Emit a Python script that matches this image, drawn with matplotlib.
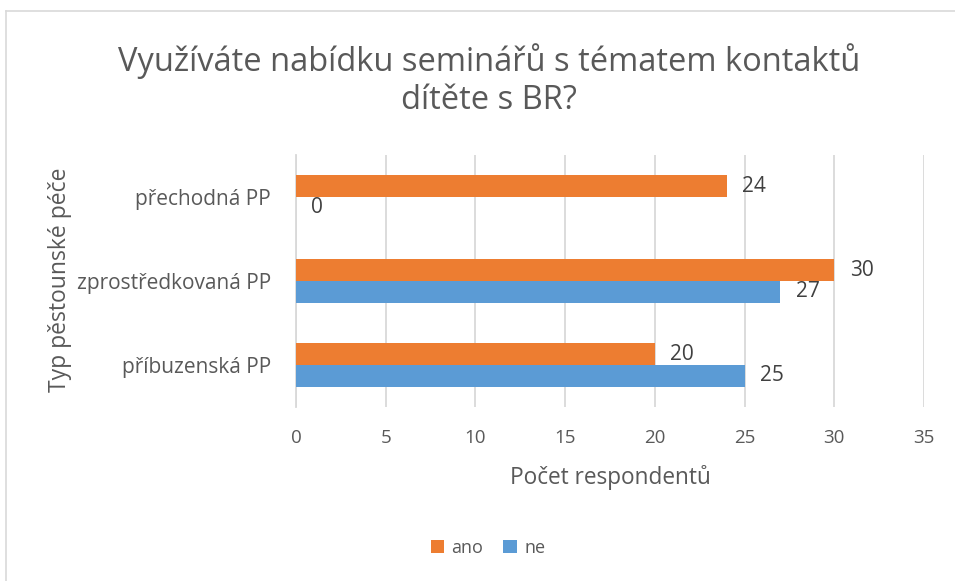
import matplotlib
matplotlib.use("Agg")
import matplotlib.pyplot as plt
from matplotlib.patches import Patch
from matplotlib.lines import Line2D
import numpy as np

plt.rcParams['font.family'] = ['Open Sans', 'DejaVu Sans']

categories = ["příbuzenská PP", "zprostředkovaná PP", "přechodná PP"]
ano = [20, 30, 24]
ne = [25, 27, 0]
series_names = ["ano", "ne"]
xticks = [0, 5, 10, 15, 20, 25, 30, 35]

orange = "#ED7D31"
blue = "#5B9BD5"
textc = "#595959"
gridc = "#D9D9D9"

W, H = 955, 581
fig = plt.figure(figsize=(W / 100, H / 100), dpi=100)
ax = fig.add_axes([296 / W, 1 - 407 / H, (924 - 296) / W, (407 - 155) / H])

y = np.arange(len(categories))
h = 0.256
b1 = ax.barh(y + h / 2, ano, height=h, color=orange, zorder=3)
b2 = ax.barh(y - h / 2, ne, height=h, color=blue, zorder=3)

for bars in (b1, b2):
    for rect in bars:
        val = rect.get_width()
        ax.annotate(f"{int(val)}", xy=(val, rect.get_y() + rect.get_height() / 2),
                    xytext=(11, 0), textcoords="offset points",
                    ha="left", va="center", fontsize=15, color="#404040")

ax.set_xlim(0, 35)
ax.set_ylim(-0.5, 2.5)
ax.set_xticks(xticks)
ax.set_xticklabels([str(t) for t in xticks], fontsize=13.5, color=textc)
ax.set_yticks(y)
ax.set_yticklabels(categories, fontsize=15, color=textc)
ax.tick_params(axis="both", length=0)
ax.tick_params(axis="x", pad=16)
ax.tick_params(axis="y", pad=18)
ax.xaxis.grid(True, color=gridc, linewidth=1.3, zorder=0)
for s in ["top", "right", "bottom"]:
    ax.spines[s].set_visible(False)
ax.spines["left"].set_color(gridc)
ax.spines["left"].set_linewidth(1.3)

fig.text(610 / W, 1 - 478 / H, "Počet respondentů", fontsize=16.3, color=textc,
         ha="center", va="center")
fig.text(60 / W, 1 - 280 / H, "Typ pěstounské péče", rotation=90, fontsize=16.5,
         color=textc, ha="center", va="center")

fig.text(489 / W, 1 - 80 / H, "Využíváte nabídku seminářů s tématem kontaktů\ndítěte s BR?",
         fontsize=23.5, color=textc, ha="center", va="center", linespacing=1.2)

handles = [Patch(facecolor=orange), Patch(facecolor=blue)]
fig.legend(handles, series_names, loc="center", bbox_to_anchor=(488 / W, 1 - 548 / H),
           ncol=2, frameon=False, fontsize=13, handlelength=0.75, handleheight=0.75,
           handletextpad=0.4, columnspacing=1.1, labelcolor=textc)

# chart border
fig.add_artist(Line2D([5.5 / W, 5.5 / W], [0, 1 - 10.5 / H], color=gridc, linewidth=1.2,
                      transform=fig.transFigure))
fig.add_artist(Line2D([5.5 / W, 1], [1 - 10.5 / H, 1 - 10.5 / H], color=gridc, linewidth=1.2,
                      transform=fig.transFigure))

fig.savefig("out.png", dpi=100, facecolor="white")
